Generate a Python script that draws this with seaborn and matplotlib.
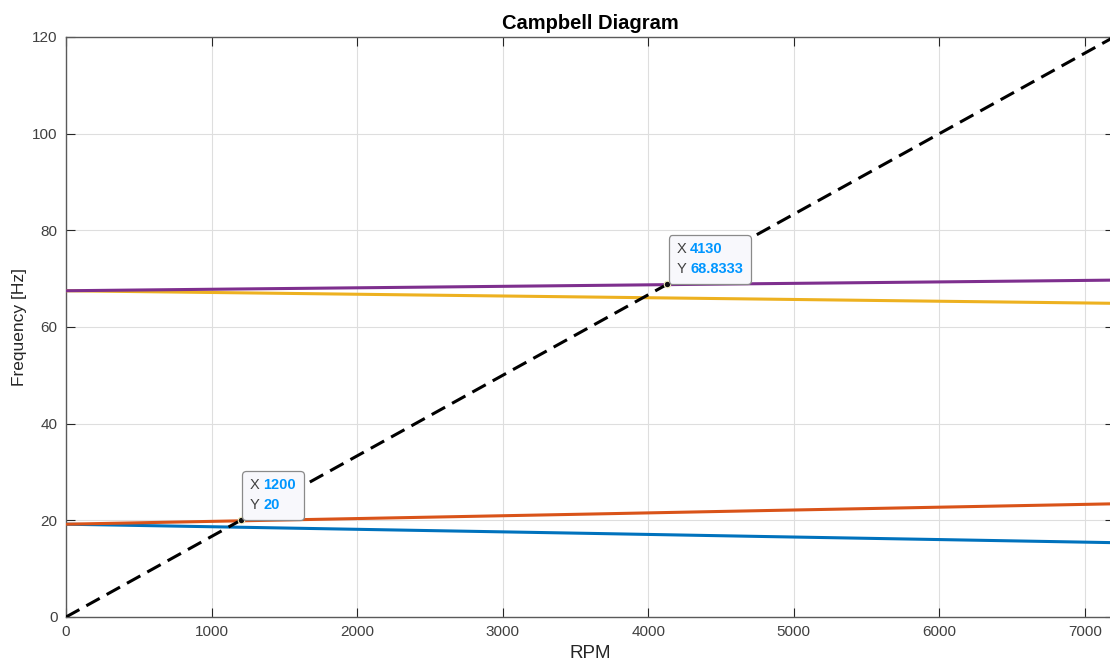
import numpy as np
import pandas as pd
import matplotlib
matplotlib.use("Agg")
import matplotlib.pyplot as plt
import seaborn as sns
from matplotlib.offsetbox import TextArea, HPacker, VPacker, AnnotationBbox

# Rotor speed samples [RPM]
rpm = [0, 1200, 2400, 3600, 4800, 6000, 7200]

# Natural frequencies of each mode [Hz]
mode_bw1 = [19.2, 18.57, 17.93, 17.3, 16.65, 16.02, 15.38]
mode_fw1 = [19.2, 19.9, 20.6, 21.3, 22.02, 22.72, 23.42]
mode_bw2 = [67.5, 67.07, 66.63, 66.2, 65.77, 65.33, 64.9]
mode_fw2 = [67.5, 67.87, 68.23, 68.6, 68.97, 69.33, 69.7]

# 1x excitation line
excite_rpm = [0, 7200]
excite_hz = [0, 120]

# Crossing points marked with data tips
tip_x = [1200, 4130]
tip_y = [20, 68.8333]

mode_names = ["Mode 1 BW", "Mode 1 FW", "Mode 2 BW", "Mode 2 FW"]
mode_colors = ["#0072BD", "#D95319", "#EDB120", "#7E2F8E"]

sns.set_theme(style="whitegrid")
plt.rcParams["font.family"] = ["Liberation Sans", "DejaVu Sans"]

frames = []
for name, vals in zip(mode_names, [mode_bw1, mode_fw1, mode_bw2, mode_fw2]):
    frames.append(pd.DataFrame({"RPM": rpm, "Frequency": vals, "Mode": name}))
modes = pd.concat(frames, ignore_index=True)
excite = pd.DataFrame({"RPM": excite_rpm, "Frequency": excite_hz})

fig = plt.figure(figsize=(11.10, 6.62), dpi=100)
ax = fig.add_axes([66 / 1110, 45 / 662, 1048 / 1110, 580 / 662])

sns.lineplot(data=modes, x="RPM", y="Frequency", hue="Mode",
             palette=dict(zip(mode_names, mode_colors)), linewidth=2.2,
             legend=False, ax=ax, zorder=3)
sns.lineplot(data=excite, x="RPM", y="Frequency", color="black",
             linewidth=2.2, linestyle=(0, (5, 2.6)), ax=ax, zorder=4)

ax.set_xlim(0, 7200)
ax.set_ylim(0, 120)
ax.set_xticks(np.arange(0, 7001, 1000))
ax.set_yticks(np.arange(0, 121, 20))
ax.set_facecolor("white")
ax.grid(True, color="#dedede", linewidth=0.8)
for side in ["left", "bottom", "top", "right"]:
    ax.spines[side].set_visible(True)
    ax.spines[side].set_color("#5a5a5a")
    ax.spines[side].set_linewidth(1.0)
ax.tick_params(axis="both", which="both", direction="in", length=6.5,
               width=0.8, color="#262626", labelsize=11,
               labelcolor="#404040", top=True, right=True,
               bottom=True, left=True, pad=6)

ax.set_title("Campbell Diagram", fontsize=14.5, fontweight="bold",
             color="black", pad=6)
ax.set_xlabel("RPM", fontsize=13.5, color="#262626", labelpad=4)
ax.set_ylabel("Frequency [Hz]", fontsize=12.5, color="#262626", labelpad=4)

# Data tips at the crossing points
for x, y in zip(tip_x, tip_y):
    ax.scatter([x], [y], s=22, color="#111111", edgecolor="#f5f0c0",
               linewidth=0.8, zorder=6)
    yval = f"{y:.4f}".rstrip("0").rstrip(".")
    row_x = HPacker(children=[
        TextArea("X", textprops=dict(color="#404040", fontsize=10.5)),
        TextArea(f"{x:g}", textprops=dict(color="#0096FF", fontsize=10.5,
                                          fontweight="bold"))],
        pad=0, sep=3, align="baseline")
    row_y = HPacker(children=[
        TextArea("Y", textprops=dict(color="#404040", fontsize=10.5)),
        TextArea(yval, textprops=dict(color="#0096FF", fontsize=10.5,
                                      fontweight="bold"))],
        pad=0, sep=3, align="baseline")
    box = VPacker(children=[row_x, row_y], pad=0, sep=4, align="left")
    ab = AnnotationBbox(box, (x, y), xybox=(6.5, 6.0),
                        xycoords="data", boxcoords="offset points",
                        box_alignment=(0, 0), frameon=True, pad=0.5,
                        zorder=7)
    ab.patch.set_boxstyle("round,pad=0.5,rounding_size=0.25")
    ab.patch.set_facecolor("#f8f8fc")
    ab.patch.set_edgecolor("#8a8a8a")
    ab.patch.set_linewidth(0.9)
    ax.add_artist(ab)

fig.savefig("out.png", dpi=100, facecolor="white")
